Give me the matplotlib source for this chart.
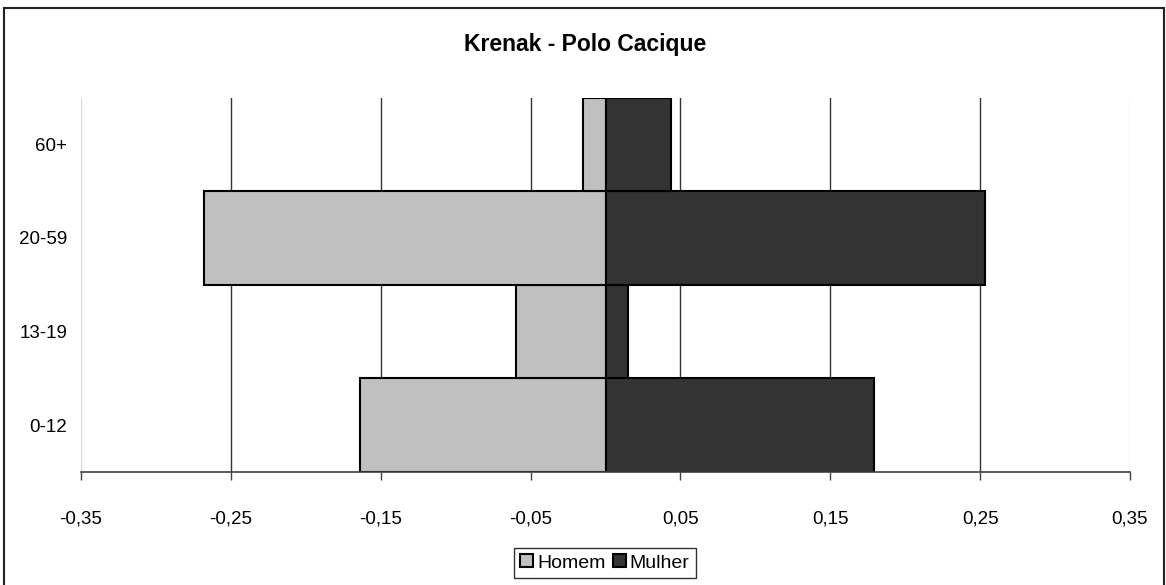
import matplotlib.pyplot as plt
from matplotlib.patches import Rectangle
import numpy as np

plt.rcParams['font.family'] = ['Liberation Sans', 'DejaVu Sans']

# faixas etarias, de baixo para cima
faixas = ['0-12', '13-19', '20-59', '60+']
homem = [-0.164, -0.060, -0.268, -0.015]
mulher = [0.179, 0.015, 0.253, 0.044]
xticks = [-0.35, -0.25, -0.15, -0.05, 0.05, 0.15, 0.25, 0.35]
xlabels = ['-0,35', '-0,25', '-0,15', '-0,05', '0,05', '0,15', '0,25', '0,35']

fig = plt.figure(figsize=(11.66, 5.85), dpi=100)
ax = fig.add_axes([81/1166, 1-472/585, (1130-81)/1166, (472-97.5)/585])

y = np.arange(len(faixas))
ax.barh(y, homem, height=1.0, color='#C0C0C0', edgecolor='black', lw=1.5, label='Homem', zorder=3)
ax.barh(y, mulher, height=1.0, color='#333333', edgecolor='black', lw=1.5, label='Mulher', zorder=3)

ax.set_xlim(-0.35, 0.35)
ax.set_ylim(-0.5, len(faixas)-0.5)
ax.set_xticks(xticks)
ax.set_xticklabels(xlabels, fontsize=13.5)
ax.set_yticks(y)
ax.set_yticklabels(faixas, fontsize=13.5)
ax.tick_params(axis='y', length=0, pad=10)
ax.tick_params(axis='x', direction='out', length=6, width=1, color='#404040', pad=22)

# linhas de grade verticais; as das pontas ficam claras
ax.xaxis.grid(True, color='#333333', lw=1, zorder=1)
gl = ax.get_xgridlines()
gl[0].set_color('#d8d8d8')
gl[-1].set_color('#d8d8d8')
for s in ['top', 'left', 'right']:
    ax.spines[s].set_visible(False)
ax.spines['bottom'].set_color('#404040')
ax.spines['bottom'].set_linewidth(1.2)
ax.spines['bottom'].set_zorder(4)

fig.text(0.5015, 1-45/585, 'Krenak - Polo Cacique', ha='center', va='center',
         fontsize=16.5, fontweight='bold')

leg = fig.legend(loc='center', bbox_to_anchor=(605/1166, 1-563/585), ncol=2, fontsize=14,
                 frameon=True, fancybox=False, edgecolor='black', handlelength=0.65,
                 handleheight=0.65, handletextpad=0.2, columnspacing=0.4, borderpad=0.35,
                 borderaxespad=0)
leg.get_frame().set_linewidth(1.0)

# moldura em volta do grafico
fig.patches.append(Rectangle((4/1166, -0.05), 1160/1166, 1.05-8/585, transform=fig.transFigure,
                             fill=False, edgecolor='#222222', lw=1.5))

plt.savefig('out.png', dpi=100)
